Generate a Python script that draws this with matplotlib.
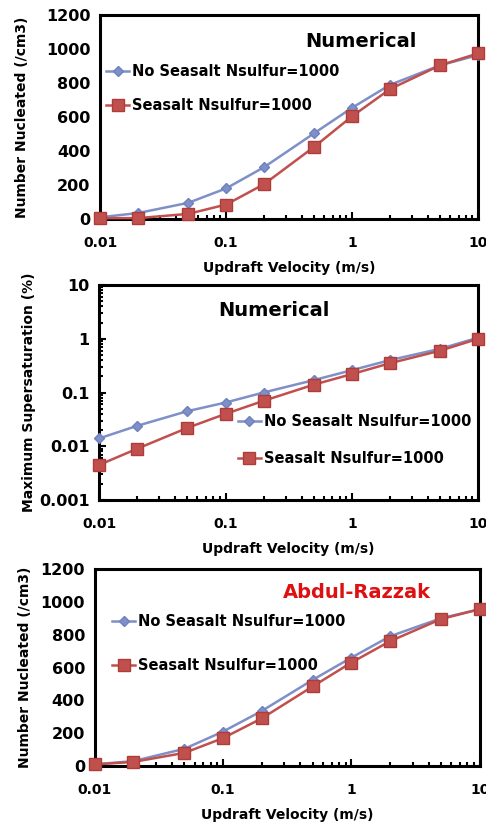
import matplotlib
matplotlib.use("Agg")
import matplotlib.pyplot as plt
from matplotlib.ticker import LogLocator, FixedLocator, NullFormatter, FuncFormatter

plt.rcParams['font.family'] = ['DejaVu Sans']

velocity = [0.01, 0.02, 0.05, 0.1, 0.2, 0.5, 1, 2, 5, 10]

num_noseasalt = [10, 35, 95, 180, 305, 505, 655, 790, 905, 965]
num_seasalt = [5, 5, 30, 85, 205, 425, 605, 765, 905, 975]

ss_noseasalt = [0.014, 0.024, 0.045, 0.065, 0.1, 0.17, 0.26, 0.4, 0.65, 1.05]
ss_seasalt = [0.0045, 0.009, 0.022, 0.04, 0.07, 0.14, 0.22, 0.35, 0.6, 1.0]

ar_noseasalt = [10, 30, 105, 210, 335, 525, 660, 790, 900, 955]
ar_seasalt = [10, 25, 80, 170, 290, 485, 630, 760, 895, 955]

label_no = "No Seasalt Nsulfur=1000"
label_ss = "Seasalt Nsulfur=1000"
xlabel = "Updraft Velocity (m/s)"

BLUE = "#7F8FC8"
BLUE_E = "#6F80BE"
RED = "#C0504D"
RED_E = "#B03C3A"

fig = plt.figure(figsize=(4.86, 8.22), dpi=100)

def xfmt(v, pos):
    return {0.01: "0.01", 0.1: "0.1", 1: "1", 10: "10"}.get(round(v, 3), "")

def style(ax):
    for s in ax.spines.values():
        s.set_linewidth(2.2)
        s.set_color("black")
    ax.set_xscale("log")
    ax.set_xlim(0.01, 10)
    ax.xaxis.set_major_locator(FixedLocator([0.01, 0.1, 1, 10]))
    ax.xaxis.set_major_formatter(FuncFormatter(xfmt))
    ax.xaxis.set_minor_locator(LogLocator(base=10, subs=range(2, 10)))
    ax.xaxis.set_minor_formatter(NullFormatter())
    ax.tick_params(axis="x", which="major", direction="in", length=5, width=1.5, labelsize=10, pad=12)
    ax.tick_params(axis="x", which="minor", direction="in", length=3, width=1.5)
    for t in ax.get_xticklabels():
        t.set_fontweight("bold")
    ax.set_xlabel(xlabel, fontsize=10, fontweight="bold", labelpad=8)

def plot_series(ax, yno, yss):
    ax.plot(velocity, yno, color=BLUE, lw=1.8, marker="D", ms=5,
            mfc=BLUE, mec=BLUE_E, label=label_no, zorder=3, clip_on=False)
    ax.plot(velocity, yss, color=RED, lw=1.8, marker="s", ms=8,
            mfc=RED, mec=RED_E, label=label_ss, zorder=3, clip_on=False)

def lin_y(ax, lpad):
    ax.set_ylim(0, 1200)
    ax.set_yticks(range(0, 1201, 200))
    ax.tick_params(axis="y", which="major", direction="in", length=0, labelsize=11.5, pad=7)
    for t in ax.get_yticklabels():
        t.set_fontweight("bold")
    ax.set_ylabel("Number Nucleated (/cm3)", fontsize=10, fontweight="bold", labelpad=lpad)

def legend(ax, loc, spacing):
    leg = ax.legend(loc="upper left", bbox_to_anchor=loc, frameon=False,
                    fontsize=10.5, handlelength=1.6, handletextpad=0.2,
                    labelspacing=spacing, borderaxespad=0)
    for t in leg.get_texts():
        t.set_fontweight("bold")

# Panel 1
ax1 = fig.add_axes([0.206, 0.7336, 0.778, 0.248])
plot_series(ax1, num_noseasalt, num_seasalt)
style(ax1)
lin_y(ax1, 12)
legend(ax1, (0.0, 0.79), 1.3)
ax1.text(0.69, 0.87, "Numerical", transform=ax1.transAxes, ha="center", va="center",
         fontsize=14, fontweight="bold")

# Panel 2
ax2 = fig.add_axes([0.204, 0.3917, 0.780, 0.2616])
plot_series(ax2, ss_noseasalt, ss_seasalt)
style(ax2)
ax2.set_yscale("log")
ax2.set_ylim(0.001, 10)
ax2.set_yticks([0.001, 0.01, 0.1, 1, 10])
ax2.set_yticklabels(["0.001", "0.01", "0.1", "1", "10"])
ax2.yaxis.set_minor_locator(LogLocator(base=10, subs=range(2, 10)))
ax2.yaxis.set_minor_formatter(NullFormatter())
ax2.tick_params(axis="y", which="major", direction="in", length=5, width=1.5, labelsize=11.5, pad=7)
ax2.tick_params(axis="y", which="minor", direction="in", length=3, width=1.5)
for t in ax2.get_yticklabels():
    t.set_fontweight("bold")
ax2.set_ylabel("Maximum Supersaturation (%)", fontsize=10, fontweight="bold", labelpad=2)
legend(ax2, (0.35, 0.425), 1.45)
ax2.text(0.46, 0.88, "Numerical", transform=ax2.transAxes, ha="center", va="center",
         fontsize=14, fontweight="bold")

# Panel 3
ax3 = fig.add_axes([0.195, 0.0681, 0.792, 0.2397])
plot_series(ax3, ar_noseasalt, ar_seasalt)
style(ax3)
lin_y(ax3, 6)
legend(ax3, (0.03, 0.8), 1.95)
ax3.text(0.68, 0.88, "Abdul-Razzak", transform=ax3.transAxes, ha="center", va="center",
         fontsize=14, fontweight="bold", color="#DD1111")

fig.savefig("out.png", dpi=100)
